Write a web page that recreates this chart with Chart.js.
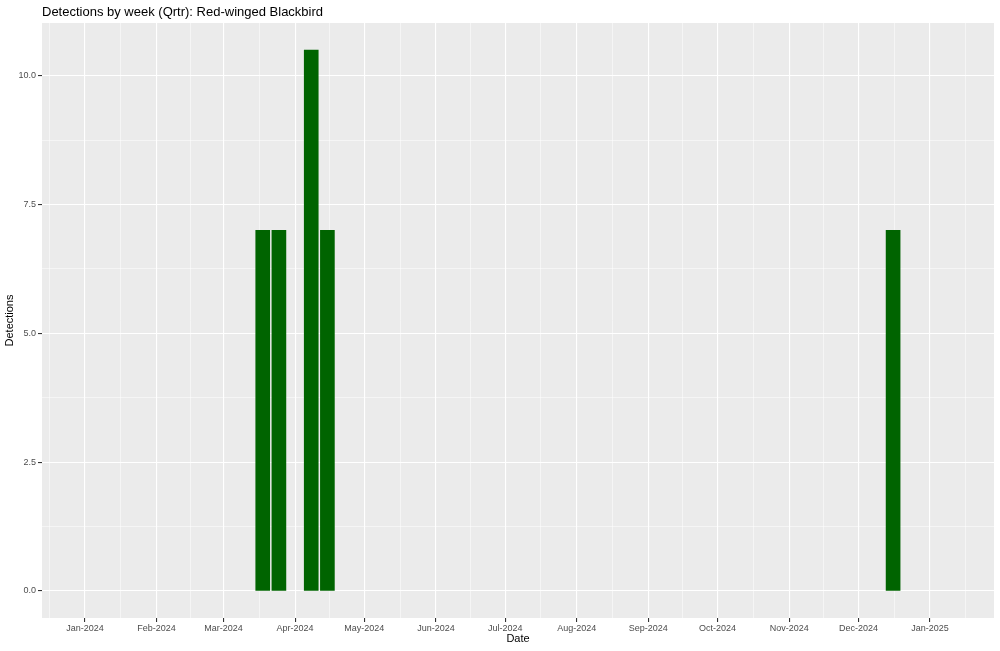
<!DOCTYPE html>
<html>
<head>
<meta charset="utf-8">
<script src="https://cdn.jsdelivr.net/npm/chart.js@4.4.1/dist/chart.umd.min.js"></script>
<style>
  html, body { margin: 0; padding: 0; background: #ffffff; }
  #wrap { width: 1000px; height: 651px; position: relative; }
</style>
</head>
<body>
<div id="wrap"><canvas id="c"></canvas></div>
<script>
// ---- data ----
const chartTitle = 'Detections by week (Qrtr): Red-winged Blackbird';
const xTitle = 'Date';
const yTitle = 'Detections';
const weekStarts = ['2024-03-18', '2024-03-25', '2024-04-08', '2024-04-15', '2024-12-16'];
const detections = [7, 7, 10.5, 7, 7];
const monthStarts = ['2023-12-01', '2024-01-01', '2024-02-01', '2024-03-01', '2024-04-01', '2024-05-01',
  '2024-06-01', '2024-07-01', '2024-08-01', '2024-09-01', '2024-10-01', '2024-11-01',
  '2024-12-01', '2025-01-01', '2025-02-01'];
const monthLabels = ['', 'Jan-2024', 'Feb-2024', 'Mar-2024', 'Apr-2024', 'May-2024', 'Jun-2024',
  'Jul-2024', 'Aug-2024', 'Sep-2024', 'Oct-2024', 'Nov-2024', 'Dec-2024', 'Jan-2025', ''];
const yTickValues = [0, 2.5, 5, 7.5, 10];
const yTickLabels = ['0.0', '2.5', '5.0', '7.5', '10.0'];
const xRangeDates = ['2023-12-14', '2025-01-28'];
const yRange = [-0.525, 11.025];

// ---- helpers ----
const ORIGIN = Date.UTC(2024, 0, 1);
function dayOf(s) {
  const p = s.split('-').map(Number);
  return (Date.UTC(p[0], p[1] - 1, p[2]) - ORIGIN) / 86400000;
}
const X_MIN = dayOf(xRangeDates[0]) - 0.6;
const X_MAX = dayOf(xRangeDates[1]) + 0.7;
const monthDays = monthStarts.map(dayOf);
const allX = [];
for (let i = 0; i < monthDays.length; i++) {
  allX.push({ value: monthDays[i], month: true, label: monthLabels[i] });
  if (i < monthDays.length - 1) {
    allX.push({ value: (monthDays[i] + monthDays[i + 1]) / 2, month: false, label: '' });
  }
}
const xTicks = allX.filter(t => t.value >= X_MIN && t.value <= X_MAX);
const yTicks = [];
for (let i = 0; i < yTickValues.length; i++) {
  yTicks.push({ value: yTickValues[i], label: yTickLabels[i] });
  yTicks.push({ value: yTickValues[i] + 1.25, label: '' });
}

const points = weekStarts.map((d, i) => ({ x: dayOf(d), y: detections[i] }));

const FONT = '"Liberation Sans", Arial, Helvetica, sans-serif';
const TICK_COLOR = '#4D4D4D';

const titlesPlugin = {
  id: 'titles',
  beforeDraw(chart) {
    const ctx = chart.ctx;
    const a = chart.chartArea;
    ctx.save();
    ctx.fillStyle = '#ffffff';
    ctx.fillRect(0, 0, chart.width, chart.height);
    ctx.fillStyle = '#EBEBEB';
    ctx.fillRect(a.left, a.top, a.right - a.left, a.bottom - a.top);
    ctx.restore();
  },
  afterDraw(chart) {
    const ctx = chart.ctx;
    const a = chart.chartArea;
    ctx.save();
    ctx.fillStyle = '#000000';
    ctx.font = '13px ' + FONT;
    ctx.textAlign = 'left';
    ctx.textBaseline = 'alphabetic';
    ctx.fillText(chartTitle, a.left, 16);
    ctx.font = '11px ' + FONT;
    ctx.textAlign = 'center';
    ctx.textBaseline = 'middle';
    ctx.fillText(xTitle, (a.left + a.right) / 2, 639);
    ctx.translate(10, (a.top + a.bottom) / 2);
    ctx.rotate(-Math.PI / 2);
    ctx.fillText(yTitle, 0, 0);
    ctx.restore();
  }
};

new Chart(document.getElementById('c'), {
  type: 'bar',
  data: {
    datasets: [{
      data: points,
      backgroundColor: '#006400',
      borderColor: '#006400',
      borderWidth: 0,
      barThickness: 14
    }]
  },
  options: {
    responsive: true,
    maintainAspectRatio: false,
    devicePixelRatio: 1,
    animation: false,
    layout: { padding: { left: 0, right: 6, top: 23, bottom: 0 } },
    plugins: { legend: { display: false }, tooltip: { enabled: false }, title: { display: false } },
    scales: {
      x: {
        type: 'linear',
        min: X_MIN,
        max: X_MAX,
        offset: false,
        afterBuildTicks(scale) { scale.ticks = xTicks.map(t => ({ value: t.value, label: t.label })); },
        afterFit(scale) { scale.height = 33; scale.paddingLeft = 0; scale.paddingRight = 0; },
        ticks: {
          autoSkip: false,
          maxRotation: 0,
          minRotation: 0,
          padding: 1,
          color: TICK_COLOR,
          font: { size: 9, family: FONT },
          callback(value, index) { return xTicks[index] ? xTicks[index].label : ''; }
        },
        grid: {
          offset: false,
          color: '#ffffff',
          lineWidth: (c) => (xTicks[c.index] && xTicks[c.index].month) ? 1.1 : 0.5,
          tickColor: (c) => (xTicks[c.index] && xTicks[c.index].label !== '') ? '#333333' : 'rgba(0,0,0,0)',
          tickLength: 4,
          drawTicks: true
        },
        border: { display: false }
      },
      y: {
        type: 'linear',
        min: yRange[0],
        max: yRange[1],
        afterBuildTicks(scale) { scale.ticks = yTicks.filter(t => t.value <= yRange[1]).map(t => ({ value: t.value, label: t.label })); },
        afterFit(scale) { scale.width = 42; scale.paddingTop = 0; scale.paddingBottom = 0; },
        ticks: {
          autoSkip: false,
          padding: 2,
          color: TICK_COLOR,
          font: { size: 9, family: FONT },
          callback(value) {
            const i = yTickValues.indexOf(value);
            return i >= 0 ? yTickLabels[i] : '';
          }
        },
        grid: {
          offset: false,
          color: '#ffffff',
          lineWidth: (c) => (c.tick && yTickValues.includes(c.tick.value)) ? 1.1 : 0.5,
          tickColor: (c) => (c.tick && yTickValues.includes(c.tick.value)) ? '#333333' : 'rgba(0,0,0,0)',
          tickLength: 4,
          drawTicks: true
        },
        border: { display: false }
      }
    }
  },
  plugins: [titlesPlugin]
});
</script>
</body>
</html>
